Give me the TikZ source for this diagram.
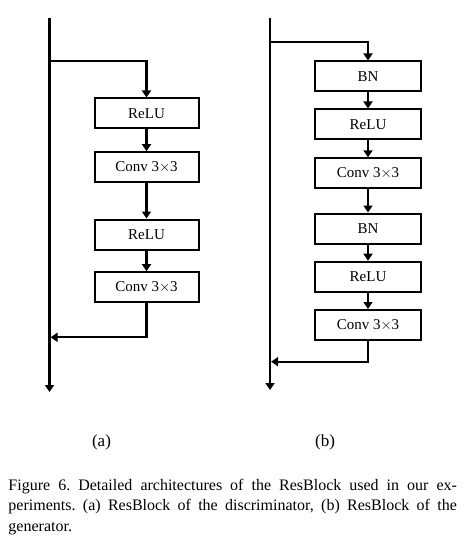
\documentclass[tikz,border=0pt]{standalone}
\usepackage{fontspec}
\setmainfont{Liberation Serif}
\usetikzlibrary{arrows.meta}
\begin{document}
\begin{tikzpicture}[x=1pt,y=-1pt,
  blk/.style={draw,line width=2pt,minimum width=104pt,minimum height=30pt,inner sep=0pt,font=\fontsize{15}{18}\selectfont},
  ln/.style={line width=2.2pt},
  arr/.style={ln,-{Triangle[width=9pt,length=7pt]}},
  lbl/.style={font=\fontsize{17}{20}\selectfont,inner sep=0pt}]
\useasboundingbox (0,0) rectangle (470,545);
% (a)
\coordinate (aT) at (49.5,18);
\coordinate (aB) at (49.5,392);
\coordinate (aS) at (49.5,60.7);
\coordinate (aR) at (49.5,337.3);
\node[blk] (a1) at (146.5,113.5) {ReLU};
\node[blk] (a2) at (146.5,167.2) {Conv 3$\times$3};
\node[blk] (a3) at (146.5,234.5) {ReLU};
\node[blk] (a4) at (146.5,287.2) {Conv 3$\times$3};
\draw[arr] (aT) -- (aB);
\draw[arr] ([xshift=-1.1pt]aS) -| (a1.north);
\draw[arr] (a1) -- (a2);
\draw[arr] (a2) -- (a3);
\draw[arr] (a3) -- (a4);
\draw[arr] (a4.south) |- ([xshift=1.1pt]aR);
% (b)
\coordinate (bT) at (270,18);
\coordinate (bB) at (270,390);
\coordinate (bS) at (270,42.3);
\coordinate (bR) at (270,361.7);
\node[blk,minimum width=106pt] (b1) at (368,76.5) {BN};
\node[blk,minimum width=106pt] (b2) at (368,124.5) {ReLU};
\node[blk,minimum width=106pt] (b3) at (368,173.3) {Conv 3$\times$3};
\node[blk,minimum width=106pt] (b4) at (368,228.5) {BN};
\node[blk,minimum width=106pt] (b5) at (368,276.7) {ReLU};
\node[blk,minimum width=106pt] (b6) at (368,325) {Conv 3$\times$3};
\draw[arr] (bT) -- (bB);
\draw[arr] ([xshift=-1.1pt]bS) -| (b1.north);
\draw[arr] (b1) -- (b2);
\draw[arr] (b2) -- (b3);
\draw[arr] (b3) -- (b4);
\draw[arr] (b4) -- (b5);
\draw[arr] (b5) -- (b6);
\draw[arr] (b6.south) |- ([xshift=1.1pt]bR);
% labels
\node[lbl,anchor=base] (la) at (101.5,446) {(a)};
\node[lbl,anchor=base] (lb) at (325,446) {(b)};
\node[anchor=north west,inner sep=0pt,text width=448.4pt,align=justify,
  font=\fontsize{16}{20.5}\selectfont] (cap) at (8.3,475.5)
  {\frenchspacing\strut Figure 6. Detailed architectures of the ResBlock used in our ex-\linebreak
   periments. (a) ResBlock of the discriminator, (b) ResBlock of the\linebreak
   generator.};
\end{tikzpicture}
\end{document}
